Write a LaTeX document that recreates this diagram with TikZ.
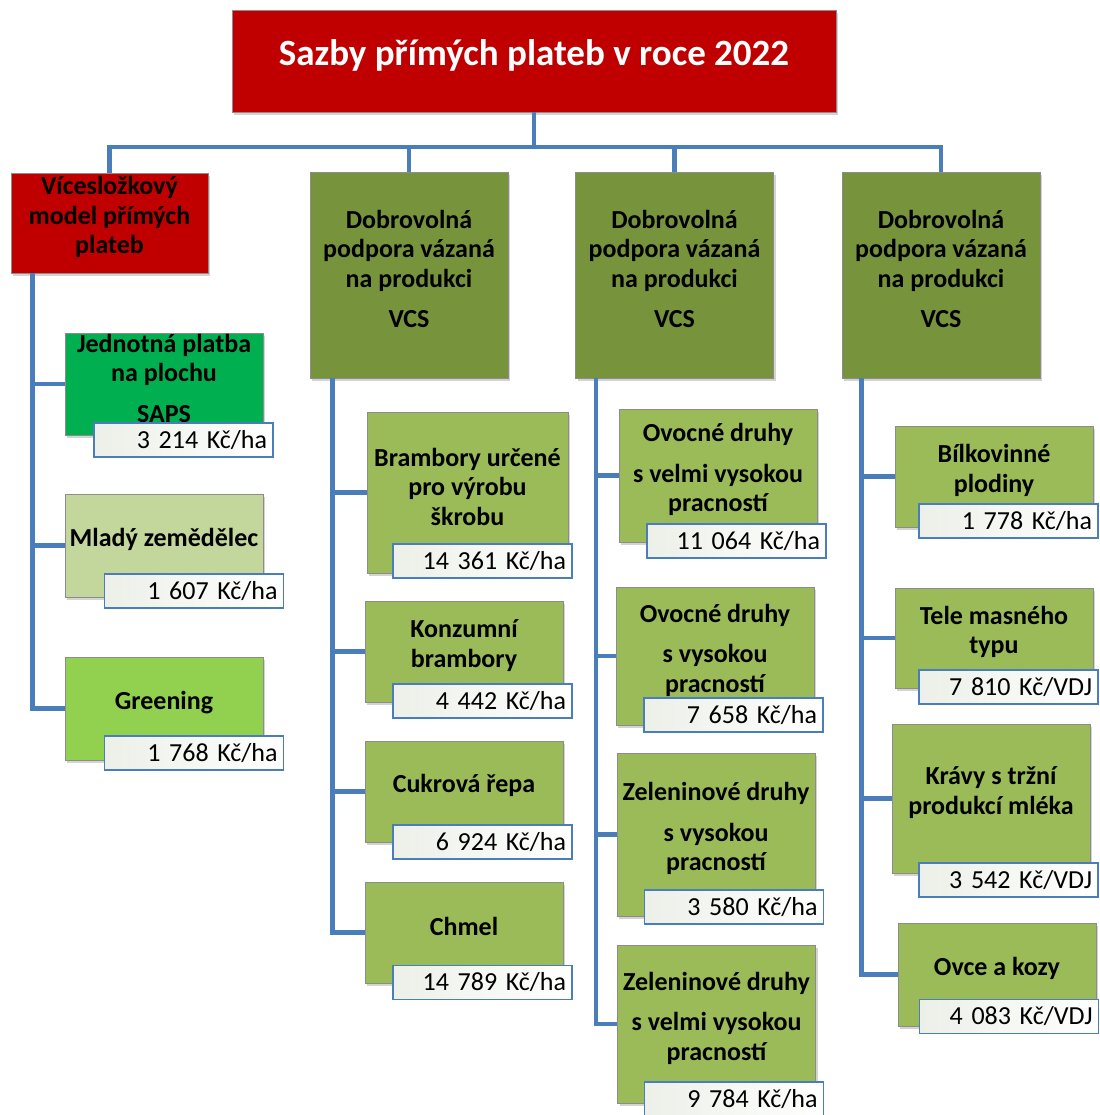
\documentclass[tikz,border=0pt]{standalone}
\usepackage{fontspec}
\setmainfont{Carlito}
\usetikzlibrary{shadows}

\definecolor{redbox}{RGB}{192,0,0}
\definecolor{vcsgreen}{RGB}{119,147,60}
\definecolor{leafgreen}{RGB}{155,187,89}
\definecolor{sapsgreen}{RGB}{0,176,80}
\definecolor{palegreen}{RGB}{195,214,155}
\definecolor{limegreen}{RGB}{146,208,80}
\definecolor{linkblue}{RGB}{74,126,187}
\definecolor{valbg}{RGB}{236,240,232}

\tikzset{
  box/.style={draw=black!45, line width=0.6pt, minimum width=198pt, minimum height=102pt,
    inner sep=0pt, drop shadow={shadow xshift=2pt, shadow yshift=-3pt, opacity=0.35}},
  txt/.style={align=center, font=\fontsize{26}{29.5}\selectfont\bfseries, yshift=6pt},
  value/.style={draw=linkblue, line width=1.5pt, left color=valbg, right color=white,
    text width=167pt, align=right, minimum height=34pt, inner xsep=6pt, inner ysep=0pt,
    font=\fontsize{26}{29.5}\selectfont},
  conn/.style={draw=linkblue, line width=4.5pt},
}

\begin{document}
\begin{tikzpicture}[x=1pt,y=-1pt]
  \useasboundingbox (0,0) rectangle (1099,1115);

  % title
  \node[box, fill=redbox, minimum width=604pt, minimum height=102pt,
    label={[txt, text=white, font=\fontsize{37}{40}\selectfont\bfseries]center:Sazby přímých plateb v roce 2022}]
    (title) at (534,61) {};

  % first level
  \node[box, fill=redbox, minimum width=197pt, minimum height=100pt,
    label={[txt]center:{Vícesložkový\\model přímých\\plateb}}] (vmp) at (109.5,223) {};
  \node[box, fill=vcsgreen, minimum height=206pt,
    label={[txt]center:{Dobrovolná\\podpora vázaná\\na produkci\\[11pt]VCS}}] (vcs1) at (409,275) {};
  \node[box, fill=vcsgreen, minimum height=206pt,
    label={[txt]center:{Dobrovolná\\podpora vázaná\\na produkci\\[11pt]VCS}}] (vcs2) at (674.5,275) {};
  \node[box, fill=vcsgreen, minimum height=206pt,
    label={[txt]center:{Dobrovolná\\podpora vázaná\\na produkci\\[11pt]VCS}}] (vcs3) at (941,275) {};

  % left column
  \node[box, fill=sapsgreen, label={[txt]center:{Jednotná platba\\na plochu\\[11pt]SAPS}}] (saps) at (164,384) {};
  \node[box, fill=palegreen, minimum height=103pt, label={[txt]center:{Mladý zemědělec}}] (mlady) at (164,545.5) {};
  \node[box, fill=limegreen, minimum height=103pt, label={[txt]center:{Greening}}] (green) at (164,708.5) {};

  % VCS column 1
  \node[box, fill=leafgreen, minimum width=201pt, minimum height=161pt,
    label={[txt]center:{Brambory určené\\pro výrobu\\škrobu}}] (bram) at (467.5,492.5) {};
  \node[box, fill=leafgreen, minimum height=101pt, label={[txt]center:{Konzumní\\brambory}}] (konz) at (464,651.5) {};
  \node[box, fill=leafgreen, minimum height=101pt, label={[txt]center:{Cukrová řepa}}] (cukr) at (464,791.5) {};
  \node[box, fill=leafgreen, minimum height=101pt, label={[txt]center:{Chmel}}] (chmel) at (464,932.5) {};

  % VCS column 2
  \node[box, fill=leafgreen, minimum height=133pt,
    label={[txt]center:{Ovocné druhy\\[11pt]s velmi vysokou\\pracností}}] (ovoc1) at (718,475.5) {};
  \node[box, fill=leafgreen, minimum height=138pt,
    label={[txt]center:{Ovocné druhy\\[11pt]s vysokou\\pracností}}] (ovoc2) at (715,656) {};
  \node[box, fill=leafgreen, minimum height=163pt,
    label={[txt]center:{Zeleninové druhy\\[11pt]s vysokou\\pracností}}] (zel1) at (716,834.5) {};
  \node[box, fill=leafgreen, minimum height=158pt,
    label={[txt]center:{Zeleninové druhy\\[11pt]s velmi vysokou\\pracností}}] (zel2) at (716.5,1024) {};

  % VCS column 3
  \node[box, fill=leafgreen, minimum height=101pt, label={[txt]center:{Bílkovinné\\plodiny}}] (bilk) at (994,476.5) {};
  \node[box, fill=leafgreen, minimum height=100pt, label={[txt]center:{Tele masného\\typu}}] (tele) at (994,638) {};
  \node[box, fill=leafgreen, minimum height=149pt,
    label={[txt]center:{Krávy s tržní\\produkcí mléka}}] (krava) at (991,798.5) {};
  \node[box, fill=leafgreen, minimum height=103pt, label={[txt]center:{Ovce a kozy}}] (ovce) at (997,974.5) {};

  % rates
  \node[value] (v-saps)  at (183.5,440) {3 214 Kč/ha};
  \node[value] (v-mlady) at (194,591)   {1 607 Kč/ha};
  \node[value] (v-green) at (194,753)   {1 768 Kč/ha};
  \node[value] (v-bram)  at (482.5,561) {14 361 Kč/ha};
  \node[value] (v-konz)  at (482.5,701) {4 442 Kč/ha};
  \node[value] (v-cukr)  at (482.5,842) {6 924 Kč/ha};
  \node[value] (v-chmel) at (482.5,982.5) {14 789 Kč/ha};
  \node[value] (v-ovoc1) at (736.5,541) {11 064 Kč/ha};
  \node[value] (v-ovoc2) at (733.5,715) {7 658 Kč/ha};
  \node[value] (v-zel1)  at (734,907)   {3 580 Kč/ha};
  \node[value] (v-zel2)  at (734,1099)  {9 784 Kč/ha};
  \node[value] (v-bilk)  at (1008.5,521) {1 778 Kč/ha};
  \node[value] (v-tele)  at (1008.5,687) {7 810 Kč/VDJ};
  \node[value] (v-krava) at (1008.5,880) {3 542 Kč/VDJ};
  \node[value] (v-ovce)  at (1009,1016.5) {4 083 Kč/VDJ};

  % connectors
  \coordinate (bar) at (534,147);
  \draw[conn] (title.south) -- (bar);
  \foreach \n in {vmp,vcs1,vcs2,vcs3}
    \draw[conn] (bar) -| (\n.north);

  \coordinate (t0) at ([xshift=22pt]vmp.south west);
  \coordinate (t1) at ([xshift=23pt]vcs1.south west);
  \coordinate (t2) at ([xshift=21pt]vcs2.south west);
  \coordinate (t3) at ([xshift=20pt]vcs3.south west);
  \foreach \c in {saps,mlady,green} \draw[conn] (t0) |- (\c.west);
  \foreach \c in {bram,konz,cukr,chmel} \draw[conn] (t1) |- (\c.west);
  \foreach \c in {ovoc1,ovoc2,zel1,zel2} \draw[conn] (t2) |- (\c.west);
  \foreach \c in {bilk,tele,krava,ovce} \draw[conn] (t3) |- (\c.west);
\end{tikzpicture}
\end{document}
